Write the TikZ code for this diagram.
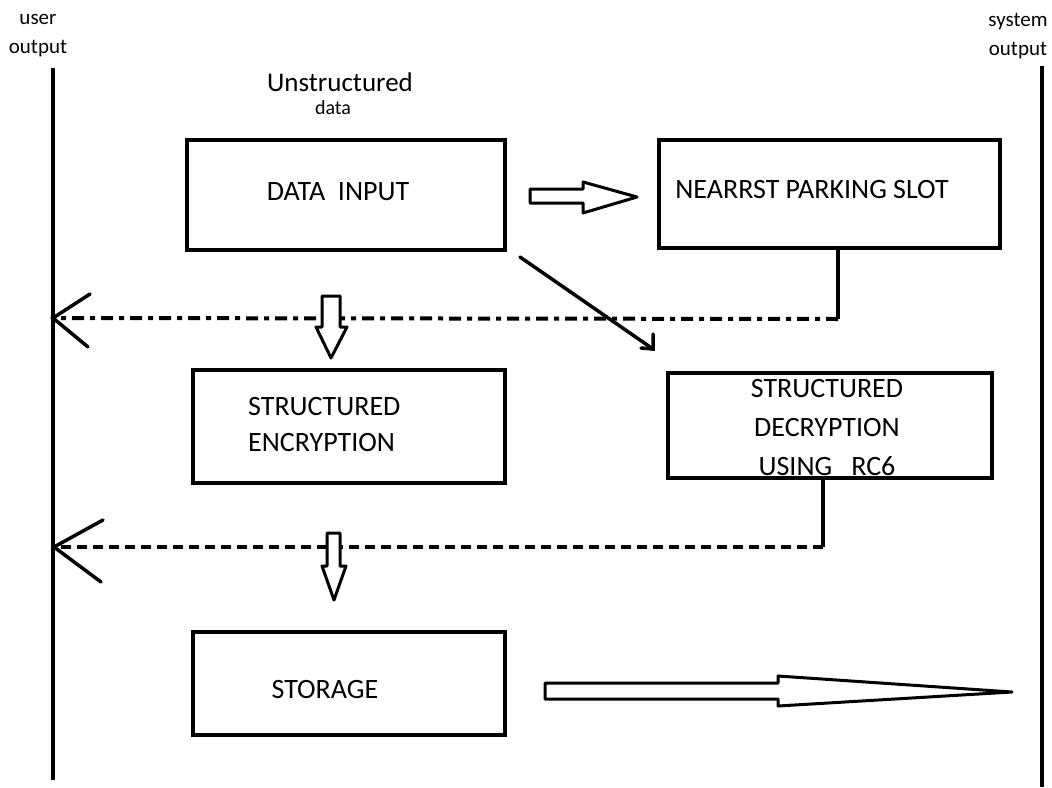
\documentclass[tikz,border=0pt]{standalone}
\usepackage{fontspec}
\setmainfont{Carlito}
\usetikzlibrary{calc}
\tikzset{
  box/.style={draw, line width=4pt, minimum width=#1, inner sep=0pt},
  lbl/.style={inner sep=0pt, font=\fontsize{28}{38}\selectfont},
  small/.style={inner sep=0pt, font=\fontsize{21}{29}\selectfont},
  life/.style={line width=3.5pt},
  conn/.style={line width=3.5pt},
  dashconn/.style={line width=4pt, dash pattern=on 10pt off 6pt},
  dashdotconn/.style={line width=4pt, dash pattern=on 12pt off 6pt on 5pt off 6pt},
  blockarrow/.style={draw, line width=3pt, fill=white, line join=round},
}
\begin{document}
\begin{tikzpicture}[x=1pt, y=-1pt]
\useasboundingbox (0,0) rectangle (1052,787);

% lifelines
\coordinate (uTop) at (53,68);
\coordinate (uBot) at (53,780);
\coordinate (sTop) at (1042,66);
\coordinate (sBot) at (1042,787);
\draw[life] (uTop) -- (uBot);
\draw[life] (sTop) -- (sBot);
\node[small, align=center] (uLbl) at (38,36) {user\\output};
\node[small, align=center] (sLbl) at (1018,36) {system\\output};

% heading
\node[inner sep=0pt, font=\fontsize{27}{30}\selectfont] (head) at (340,82) {Unstructured};
\node[inner sep=0pt, font=\fontsize{20}{24}\selectfont] (headb) at (333,108) {data};

% boxes
\node[box=318pt, minimum height=110pt] (din) at (346,195) {};
\node[lbl] (dinT) at (338,192) {DATA\ \ INPUT};

\node[box=341pt, minimum height=108pt] (park) at (829.5,194) {};
\node[lbl] (parkT) at (812,190) {NEARRST PARKING SLOT};

\node[box=312pt, minimum height=113pt] (enc) at (349,426.5) {};
\node[lbl, align=left, anchor=west, font=\fontsize{28}{36}\selectfont] (encT) at (248,425) {STRUCTURED\\ENCRYPTION};

\node[box=324pt, minimum height=105pt] (dec) at (830,425.5) {};
\node[lbl, align=center, font=\fontsize{28}{39}\selectfont] (decT) at (827,428) {STRUCTURED\\DECRYPTION\\USING\ \ \ RC6};

\node[box=312pt, minimum height=103pt] (sto) at (349,683.5) {};
\node[lbl] (stoT) at (325,690) {STORAGE};

% block arrow: input -> parking
\draw[blockarrow] (530,189) -- (583,189) -- (583,182) -- (637,197)
  -- (583,213) -- (583,203) -- (530,203) -- cycle;

% diagonal connector from input towards decryption
\coordinate (dgA) at (520,257);
\coordinate (dgB) at (653,349);
\draw[conn, line cap=round] (dgA) -- (dgB);
\draw[conn, line cap=round, line join=miter] ($(dgB)+(-12,-1)$) -- (dgB) -- ($(dgB)+(0,-15)$);

% return from parking to user
\coordinate (r1) at (838,319);
\coordinate (r1e) at (53,318);
\draw[conn] (park.south -| r1) -- (r1);
\draw[dashdotconn] (r1) -- (r1e);
\draw[conn, line cap=round] ($(r1e)+(37,-24)$) -- (r1e) -- ($(r1e)+(35,29)$);

% block arrow: input -> encryption
\draw[blockarrow] (322,296) -- (340,296) -- (340,327) -- (347,327) -- (331,358)
  -- (316,327) -- (322,327) -- cycle;

% return from decryption to user
\coordinate (r2) at (823,547);
\coordinate (r2e) at (54,547);
\draw[conn] (dec.south -| r2) -- (r2);
\draw[dashconn] (r2) -- (r2e);
\draw[conn, line cap=round] ($(r2e)+(49,-27)$) -- (r2e) -- ($(r2e)+(47,35)$);

% block arrow: encryption -> storage
\draw[blockarrow] (327,533) -- (340,533) -- (340,566) -- (346,566) -- (334,600)
  -- (322,566) -- (327,566) -- cycle;

% block arrow: storage -> system output
\draw[blockarrow] (545,683) -- (778,683) -- (778,676) -- (1012,692)
  -- (778,706) -- (778,699) -- (545,699) -- cycle;
\end{tikzpicture}
\end{document}
